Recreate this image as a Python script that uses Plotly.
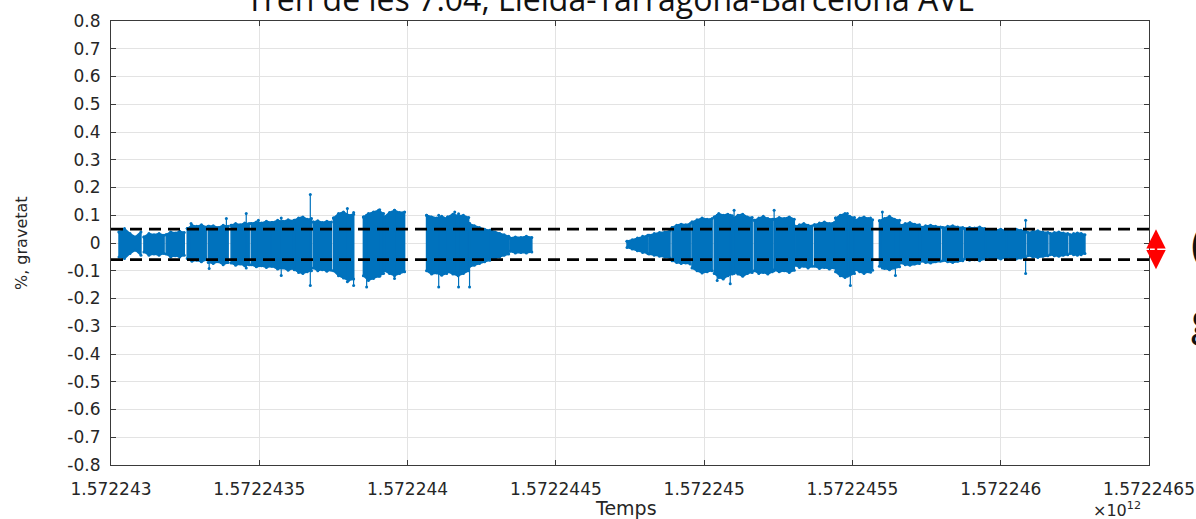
import plotly.graph_objects as go

# ---------------- data ----------------
T0_MS = 1572243000000  # time origin of the offsets below (ms)

X_TICK_LABELS = ["1.572243", "1.5722435", "1.572244", "1.5722445",
                 "1.572245", "1.5722455", "1.572246", "1.5722465"]
Y_TICK_LABELS = ["0.8", "0.7", "0.6", "0.5", "0.4", "0.3", "0.2", "0.1", "0",
                 "-0.1", "-0.2", "-0.3", "-0.4", "-0.5", "-0.6", "-0.7", "-0.8"]

THRESHOLD_UPPER = 0.05
THRESHOLD_LOWER = -0.06

# recording blocks: start / end (seconds after T0) and envelope readings
BLOCK_START_S = [27, 111, 186, 257, 328, 405, 473, 544, 618, 682, 750, 851, 922,
                 1064, 1135, 1208, 1280, 1345, 1740, 1814, 1892, 1959, 2034, 2098,
                 2169, 2236, 2307, 2372, 2443, 2510, 2591, 2662, 2730, 2804, 2878,
                 2949, 3020, 3091, 3166, 3233]
BLOCK_END_S = [101, 179, 247, 321, 395, 466, 541, 615, 676, 743, 818, 919, 990,
               1132, 1206, 1277, 1341, 1419, 1810, 1885, 1953, 2027, 2095, 2162,
               2230, 2304, 2365, 2439, 2507, 2568, 2659, 2726, 2797, 2872, 2946,
               3017, 3084, 3159, 3226, 3284]
BLOCK_UPPER = [
    [0.040, 0.052, 0.034, 0.022, 0.040], [0.022, 0.034, 0.030, 0.034, 0.028],
    [0.030, 0.040, 0.036, 0.042, 0.038], [0.052, 0.064, 0.060, 0.066, 0.058],
    [0.060, 0.062, 0.056, 0.064, 0.060], [0.064, 0.070, 0.066, 0.072, 0.070],
    [0.070, 0.076, 0.072, 0.078, 0.074], [0.074, 0.082, 0.078, 0.084, 0.080],
    [0.082, 0.090, 0.094, 0.086, 0.088], [0.076, 0.080, 0.074, 0.078, 0.076],
    [0.090, 0.106, 0.112, 0.100, 0.104], [0.094, 0.106, 0.112, 0.118, 0.106],
    [0.094, 0.110, 0.118, 0.110, 0.112], [0.100, 0.094, 0.090, 0.096, 0.088],
    [0.094, 0.104, 0.098, 0.100, 0.092], [0.070, 0.062, 0.056, 0.050, 0.046],
    [0.046, 0.040, 0.034, 0.030, 0.024], [0.018, 0.022, 0.020, 0.024, 0.020],
    [0.006, 0.012, 0.018, 0.024, 0.028], [0.028, 0.034, 0.038, 0.040, 0.044],
    [0.056, 0.064, 0.068, 0.066, 0.070], [0.076, 0.084, 0.090, 0.086, 0.088],
    [0.094, 0.106, 0.100, 0.104, 0.098], [0.090, 0.100, 0.104, 0.094, 0.092],
    [0.082, 0.090, 0.096, 0.088, 0.086], [0.086, 0.092, 0.088, 0.094, 0.086],
    [0.060, 0.066, 0.070, 0.064, 0.062], [0.066, 0.072, 0.076, 0.070, 0.074],
    [0.090, 0.100, 0.106, 0.096, 0.092], [0.082, 0.090, 0.094, 0.088, 0.084],
    [0.080, 0.088, 0.096, 0.086, 0.082], [0.064, 0.070, 0.074, 0.068, 0.066],
    [0.058, 0.062, 0.064, 0.060, 0.058], [0.056, 0.060, 0.062, 0.058, 0.056],
    [0.052, 0.056, 0.054, 0.058, 0.052], [0.044, 0.048, 0.046, 0.050, 0.044],
    [0.044, 0.048, 0.050, 0.046, 0.044], [0.038, 0.042, 0.044, 0.040, 0.038],
    [0.034, 0.038, 0.040, 0.036, 0.034], [0.030, 0.034, 0.036, 0.034, 0.030],
]
BLOCK_LOWER = [
    [-0.050, -0.056, -0.038, -0.026, -0.044], [-0.032, -0.044, -0.040, -0.044, -0.038],
    [-0.040, -0.050, -0.046, -0.050, -0.044], [-0.056, -0.066, -0.062, -0.068, -0.060],
    [-0.070, -0.074, -0.068, -0.078, -0.070], [-0.072, -0.080, -0.076, -0.082, -0.078],
    [-0.078, -0.086, -0.082, -0.088, -0.084], [-0.084, -0.094, -0.090, -0.098, -0.092],
    [-0.096, -0.106, -0.110, -0.104, -0.100], [-0.090, -0.100, -0.096, -0.102, -0.098],
    [-0.100, -0.118, -0.126, -0.135, -0.130], [-0.118, -0.135, -0.128, -0.120, -0.110],
    [-0.100, -0.110, -0.118, -0.110, -0.104], [-0.100, -0.112, -0.108, -0.116, -0.110],
    [-0.104, -0.112, -0.118, -0.110, -0.100], [-0.086, -0.080, -0.074, -0.068, -0.062],
    [-0.060, -0.056, -0.050, -0.044, -0.040], [-0.030, -0.036, -0.034, -0.036, -0.032],
    [-0.016, -0.022, -0.028, -0.034, -0.038], [-0.040, -0.044, -0.048, -0.050, -0.054],
    [-0.064, -0.070, -0.074, -0.072, -0.076], [-0.090, -0.100, -0.108, -0.104, -0.100],
    [-0.110, -0.124, -0.130, -0.118, -0.112], [-0.104, -0.112, -0.120, -0.110, -0.106],
    [-0.100, -0.110, -0.106, -0.112, -0.104], [-0.096, -0.104, -0.100, -0.106, -0.098],
    [-0.080, -0.088, -0.084, -0.090, -0.084], [-0.084, -0.092, -0.088, -0.094, -0.090],
    [-0.104, -0.118, -0.124, -0.116, -0.110], [-0.096, -0.104, -0.110, -0.104, -0.098],
    [-0.084, -0.092, -0.096, -0.090, -0.086], [-0.072, -0.078, -0.080, -0.076, -0.074],
    [-0.066, -0.070, -0.072, -0.068, -0.066], [-0.064, -0.068, -0.070, -0.066, -0.064],
    [-0.058, -0.062, -0.060, -0.064, -0.058], [-0.052, -0.056, -0.054, -0.058, -0.052],
    [-0.052, -0.056, -0.058, -0.054, -0.052], [-0.046, -0.050, -0.052, -0.048, -0.046],
    [-0.042, -0.046, -0.048, -0.044, -0.042], [-0.038, -0.042, -0.044, -0.042, -0.038],
]

# isolated peaks sticking out of the blocks (seconds after T0, top, bottom)
SPIKE_T_S = [270, 331, 389, 456, 497, 574, 672, 797, 818, 862, 906, 956, 1105,
             1159, 1172, 1209, 2044, 2088, 2101, 2236, 2483, 2493, 2561, 2601,
             2645, 3084]
SPIKE_TOP = [0.070, 0.060, 0.088, 0.106, 0.082, 0.090, 0.175, 0.124, 0.110, 0.100,
             0.120, 0.118, 0.100, 0.112, 0.105, 0.070, 0.100, 0.100, 0.118, 0.118,
             0.106, 0.090, 0.090, 0.112, 0.080, 0.082]
SPIKE_BOTTOM = [-0.060, -0.092, -0.070, -0.090, -0.080, -0.117, -0.153, -0.140,
                -0.153, -0.159, -0.120, -0.128, -0.159, -0.110, -0.159, -0.159,
                -0.135, -0.147, -0.110, -0.100, -0.120, -0.153, -0.105, -0.090,
                -0.117, -0.110]

BLUE = "#0072BD"

# ---------------- build marks ----------------
def t_ms(sec):
    return T0_MS + sec * 1000.0

poly_x, poly_y = [], []
for s, e, up, lo in zip(BLOCK_START_S, BLOCK_END_S, BLOCK_UPPER, BLOCK_LOWER):
    n = len(up)
    xs = [t_ms(s + (e - s) * i / (n - 1)) for i in range(n)]
    poly_x += xs + xs[::-1] + [xs[0], None]
    poly_y += list(up) + list(lo)[::-1] + [up[0], None]

spk_x, spk_y = [], []
for t, a, b in zip(SPIKE_T_S, SPIKE_TOP, SPIKE_BOTTOM):
    spk_x += [t_ms(t), t_ms(t), None]
    spk_y += [a, b, None]

x_ticks = [float(v) * 1e12 for v in X_TICK_LABELS]
y_ticks = [float(v) for v in Y_TICK_LABELS]
x_min, x_max = x_ticks[0], x_ticks[-1]

fig = go.Figure()
fig.add_trace(go.Scatter(x=poly_x, y=poly_y, mode="lines+markers", fill="toself",
                         fillcolor=BLUE, line=dict(color=BLUE, width=1.5),
                         marker=dict(color=BLUE, size=3),
                         hoverinfo="skip", showlegend=False))
fig.add_trace(go.Scatter(x=spk_x, y=spk_y, mode="lines+markers",
                         line=dict(color=BLUE, width=1.2),
                         marker=dict(color=BLUE, size=3),
                         hoverinfo="skip", showlegend=False))
for thr in (THRESHOLD_UPPER, THRESHOLD_LOWER):
    fig.add_trace(go.Scatter(x=[x_min, x_max], y=[thr, thr], mode="lines",
                             line=dict(color="black", width=2.6, dash="12px,7px"),
                             hoverinfo="skip", showlegend=False))

# ---------------- layout ----------------
L, R, T, B = 111, 1149, 21, 465
W, H = 1196, 519

def px_x(px):
    return (px - L) / (R - L)

def px_y(py):
    return (B - py) / (B - T)

fig.update_layout(
    width=W, height=H,
    margin=dict(l=L, r=W - R, t=T, b=H - B, autoexpand=False),
    paper_bgcolor="white", plot_bgcolor="white",
    showlegend=False,
    xaxis=dict(range=[x_min, x_max], tickvals=x_ticks, ticktext=X_TICK_LABELS,
               automargin=False,
               showgrid=True, gridcolor="#e3e3e3", gridwidth=1,
               zeroline=False, showline=True, linecolor="#3a3a3a", linewidth=1.2,
               mirror="ticks", ticks="inside", ticklen=5, tickcolor="#3a3a3a",
               tickfont=dict(family="DejaVu Sans", size=17, color="#262626"),
               ticklabelstandoff=8),
    yaxis=dict(range=[-0.8, 0.8], tickvals=y_ticks, ticktext=Y_TICK_LABELS,
               automargin=False,
               showgrid=True, gridcolor="#e3e3e3", gridwidth=1,
               zeroline=False, showline=True, linecolor="#3a3a3a", linewidth=1.2,
               mirror="ticks", ticks="inside", ticklen=5, tickcolor="#3a3a3a",
               tickfont=dict(family="DejaVu Sans", size=17, color="#262626"),
               ticklabelstandoff=6),
)

ann = [
    dict(text="Tren de les 7.04, Lleida-Tarragona-Barcelona AVE",
         xref="paper", yref="paper", x=px_x(610), y=1, yanchor="bottom",
         xanchor="center", yshift=-1, showarrow=False,
         font=dict(family="Open Sans", size=32, color="#111111")),
    dict(text="Temps", xref="paper", yref="paper", x=px_x(626), y=px_y(508),
         xanchor="center", yanchor="middle", showarrow=False,
         font=dict(family="DejaVu Sans", size=19, color="#262626")),
    dict(text="%, gravetat", xref="paper", yref="paper", x=px_x(21), y=px_y(243),
         xanchor="center", yanchor="middle", textangle=-90, showarrow=False,
         font=dict(family="DejaVu Sans", size=16, color="#262626")),
    dict(text="×10<sup>12</sup>", xref="paper", yref="paper", x=px_x(1143),
         y=px_y(509), xanchor="right", yanchor="middle", showarrow=False,
         font=dict(family="DejaVu Sans", size=16, color="#262626")),
    # red double arrow beside the plot
    dict(text="", xref="paper", yref="y", x=px_x(1156), y=THRESHOLD_UPPER,
         axref="pixel", ayref="y", ax=0, ay=-0.1, showarrow=True,
         arrowside="end+start", arrowhead=2, arrowsize=1.55, arrowwidth=2.5,
         arrowcolor="#ff0000"),
    # partially visible text at the right edge
    dict(text="(", xref="paper", yref="paper", x=px_x(1189), y=px_y(242),
         xanchor="left", yanchor="middle", showarrow=False,
         font=dict(family="Open Sans", size=44, color="#111111")),
    dict(text="g", xref="paper", yref="paper", x=px_x(1189), y=px_y(318),
         xanchor="left", yanchor="middle", showarrow=False,
         font=dict(family="Open Sans", size=44, color="#111111")),
]
fig.update_layout(annotations=ann)

fig.write_html("out.html")
